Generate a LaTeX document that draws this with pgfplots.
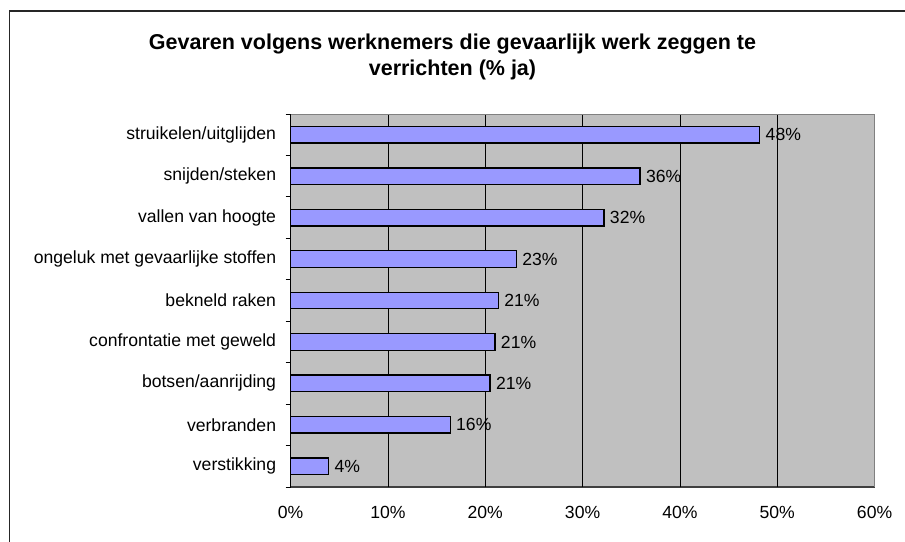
\documentclass[border=0pt]{standalone}
\usepackage{pgfplots}
\pgfplotsset{compat=1.18}
\usepackage{pgfplotstable}
\usepackage{fontspec}
\setmainfont{Liberation Sans}
\definecolor{barfill}{HTML}{9999FF}
\definecolor{plotbg}{HTML}{C0C0C0}
\pgfplotstableread[col sep=comma]{
y,x,lab
0,48.2,48\%
1,35.9,36\%
2,32.2,32\%
3,23.2,23\%
4,21.35,21\%
5,21.0,21\%
6,20.5,21\%
7,16.4,16\%
8,3.9,4\%
}\datatab
\begin{document}
\begin{tikzpicture}
\useasboundingbox (0,0) rectangle (905pt,-541pt);
\draw[line width=1.6pt, black!85] (9.5pt,-600pt) |- (960pt,-11pt);
\node[font=\fontsize{21.5}{26}\selectfont\bfseries, align=center] at (452.5pt,-57pt)
  {Gevaren volgens werknemers die gevaarlijk werk zeggen te\\verrichten (\% ja)};
\begin{axis}[
  at={(290.6pt,-487pt)}, anchor=south west,
  scale only axis, width=584pt, height=373pt,
  xbar, bar width=16.5pt,
  xmin=0, xmax=60, xtick={0,10,...,60},
  ymin=-0.5, ymax=8.5, y dir=reverse,
  ytick={0,...,8},
  yticklabels={struikelen/uitglijden,snijden/steken,vallen van hoogte,ongeluk met gevaarlijke stoffen,bekneld raken,confrontatie met geweld,botsen/aanrijding,verbranden,verstikking},
  minor ytick={-0.5,0.5,...,8.5},
  major tick length=0pt,
  minor tick length=5pt,
  tick style={black, line width=0.8pt},
  extra x ticks={0,10,...,60}, extra x tick labels={},
  extra x tick style={major tick length=5pt, tick style={black,line width=0.8pt}, grid=none},
  axis x line*=bottom, axis y line*=left,
  x axis line style={line width=1.4pt, black!75, -},
  y axis line style={line width=1.2pt, black, -},
  xmajorgrids, major grid style={black, line width=0.7pt},
  ymajorgrids=false,
  axis background/.style={fill=plotbg},
  xticklabel={\pgfmathprintnumber[assume math mode=true]{\tick}\%},
  ticklabel style={font=\fontsize{17.6}{20}\selectfont},
  xticklabel style={yshift=-16pt},
  yticklabel style={xshift=-11pt},
  nodes near coords, point meta=explicit symbolic,
  nodes near coords style={anchor=west, font=\fontsize{17.6}{20}\selectfont, xshift=2pt},
  clip=false,
]
\addplot[fill=barfill, draw=black, line width=1.3pt] table[x=x, y=y, meta=lab] {\datatab};
\draw[black!50, line width=1pt] (rel axis cs:0,1) -- (rel axis cs:1,1) -- (rel axis cs:1,0);
\end{axis}
\end{tikzpicture}
\end{document}
